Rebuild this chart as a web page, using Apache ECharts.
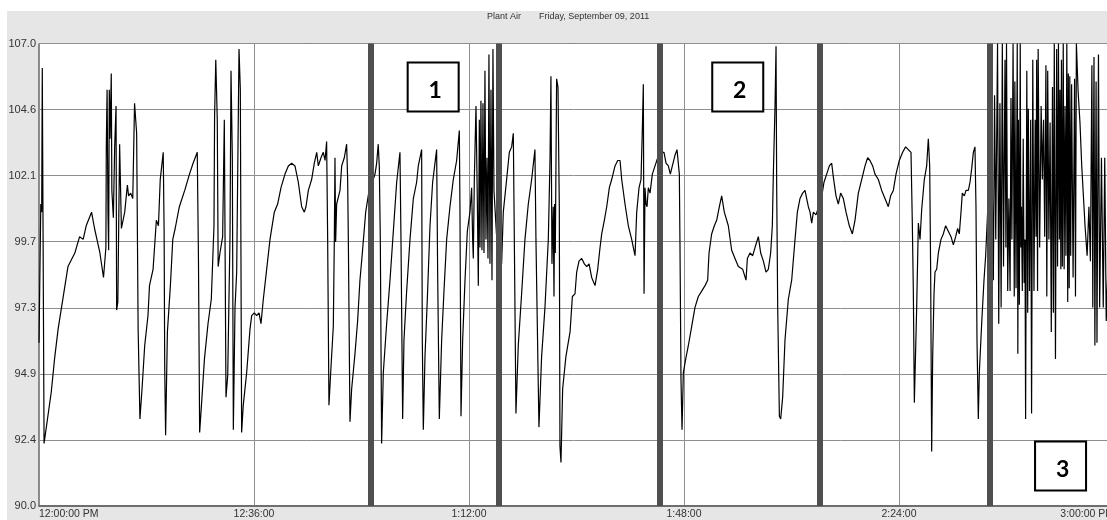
<!DOCTYPE html>
<html>
<head>
<meta charset="utf-8">
<title>Plant Air</title>
<script src="https://cdn.jsdelivr.net/npm/echarts@6/dist/echarts.min.js"></script>
<style>
  html, body { margin: 0; padding: 0; background: #fff; overflow: hidden; }
  #panel { position: absolute; left: 7px; top: 11px; right: 0; bottom: 0; background: #e6e6e6; }
  #chart { position: absolute; left: 0; top: 0; width: 1107px; height: 520px; }
</style>
</head>
<body>
<div id="panel"></div>
<div id="chart"></div>
<script>
// Plant air header pressure, noon to 3 PM. Each pair is [minutes after 12:00, pressure].
const sectionA = [[0,96.0],[0.3,101.1],[0.45,100.8],[0.55,106.1],[0.85,92.3],[2.06,94.2],[2.6,95.4],[3.2,96.5],[3.7,97.2],[4.85,98.8],[6.0,99.3],[6.8,99.9],[7.4,99.8],[7.9,100.3],[8.8,100.8],[9.3,100.2],[10.2,99.3],[10.8,98.4],[11.2,99.5],[11.27,103.2],[11.4,105.3],[11.55,100.8],[11.66,99.4],[11.77,105.3],[11.9,103.5],[12.1,105.9],[12.2,101.6],[12.45,100.6],[12.67,103.2],[12.9,104.7],[13.0,97.2],[13.2,97.5],[13.5,103.3],[13.8,100.2],[14.35,100.8],[14.8,101.8],[15.0,101.4],[15.35,101.5],[15.7,101.3],[16.0,104.8],[16.35,103.7],[16.6,96.5],[16.9,93.2],[17.25,94.3],[17.7,95.9],[18.25,97.0],[18.5,98.1],[19.1,98.7],[19.65,100.5],[20.0,100.3],[20.3,102.0],[20.8,103.0],[20.95,100.1],[21.05,95.1],[21.2,92.6],[21.5,96.4],[22.0,98.1],[22.4,99.8],[22.8,100.2],[23.5,101.0],[24.4,101.6],[25.2,102.2],[25.8,102.6],[26.5,103.0],[26.7,99.1],[26.9,92.7],[27.2,93.7],[27.7,95.4],[28.3,96.7],[28.85,97.6],[29.3,100.3],[29.4,104.3],[29.6,106.4]];

const sectionB = [[29.85,104.2],[30.0,98.8],[30.3,99.3],[30.75,99.9],[31.03,104.2],[31.31,94.0],[31.6,94.8],[31.98,99.9],[32.15,106.0],[32.37,102.8],[32.54,92.8],[32.82,97.3],[33.1,98.6],[33.49,106.8],[33.71,105.3],[33.93,92.7],[34.2,93.7],[34.77,94.9],[35.33,96.5],[35.61,97.0],[36.05,97.1],[36.45,97.0],[36.84,97.1],[37.17,96.7],[37.56,97.6],[38.12,98.7],[38.68,99.8],[39.4,100.8],[39.96,101.1],[40.52,101.7],[41.19,102.2],[41.75,102.5],[42.3,102.6],[42.86,102.5],[43.42,101.9],[43.98,101.0],[44.43,100.8],[44.7,101.0],[45.1,101.6],[45.65,102.0],[46.1,102.6],[46.5,103.0],[46.77,102.5],[47.22,102.8],[47.6,103.0],[47.9,102.7],[48.16,103.4],[48.33,99.9],[48.55,93.7],[48.89,95.1],[49.28,96.6],[49.45,99.8],[49.56,102.8],[49.67,99.7],[49.84,101.1],[50.4,101.6],[50.68,102.5],[51.12,102.8],[51.51,103.3],[51.68,102.0],[51.8,99.7],[52.07,93.1],[52.35,94.3],[52.91,95.6],[53.35,96.8],[53.74,98.3],[54.14,99.3],[54.7,100.8],[55.2,101.5],[55.8,101.9],[56.26,102.2],[56.54,102.6],[56.8,103.3],[56.98,102.5],[57.15,99.8],[57.37,92.3],[57.65,94.9],[58.21,96.7],[58.77,98.3]];

const sectionC = [[59.33,100.1],[59.89,101.9],[60.44,103.0],[60.61,99.8],[60.89,93.2],[61.11,96.1],[61.56,97.9],[62.12,99.8],[62.68,101.3],[63.23,101.9],[63.51,102.5],[64.07,103.1],[64.18,96.1],[64.35,92.8],[64.63,95.5],[65.02,97.6],[65.47,100.3],[65.91,101.9],[66.58,103.1],[66.75,98.6],[67.03,93.2],[67.42,96.1],[67.81,97.9],[68.26,99.8],[68.81,101.0],[69.37,102.0],[69.93,102.7],[70.38,103.8],[70.49,100.8],[70.66,93.3],[70.94,96.1],[71.33,98.3],[71.72,100.1],[72.16,100.8],[72.44,101.7],[72.61,99.8],[72.72,99.1],[72.89,102.0],[73.17,104.7],[73.39,101.3],[73.56,98.1],[73.73,104.2],[73.84,99.5],[74.0,104.9],[74.17,99.4],[74.34,104.8],[74.51,99.3],[74.67,106.0],[74.84,99.8],[75.01,102.8],[75.18,99.1],[75.34,106.6],[75.51,98.9],[75.68,105.3],[75.85,98.3],[76.01,106.8],[76.18,101.6],[76.6,100.0],[77.2,99.2],[77.46,98.9],[77.74,100.8],[78.3,102.0],[78.75,103.0],[79.14,103.2],[79.42,103.7],[79.59,99.8],[79.86,93.4],[80.25,95.9],[80.81,97.8],[81.37,99.8],[81.93,101.1],[82.49,102.0],[83.04,103.1],[83.21,99.8],[83.71,92.9],[84.16,95.5],[84.72,97.3],[85.28,99.8],[85.56,102.7],[85.72,105.8],[85.89,98.9],[86.11,101.0],[86.23,97.7],[86.34,101.1],[86.45,99.3],[86.67,105.7],[86.9,105.4],[87.12,101.0],[87.23,92.2],[87.4,91.6],[87.68,94.3],[88.23,95.5]];

const sectionD = [[88.92,96.4],[89.31,97.7],[89.75,97.8],[90.03,98.6],[90.42,99.0],[90.87,99.1],[91.32,98.9],[91.71,98.8],[92.1,98.9],[92.54,98.4],[93.1,98.1],[93.55,98.7],[93.94,99.5],[94.22,100.0],[94.66,100.5],[95.06,101.0],[95.5,101.7],[95.89,102.0],[96.45,102.5],[96.9,102.7],[97.29,102.7],[97.57,102.0],[98.12,101.1],[98.68,100.3],[99.24,99.8],[99.52,99.5],[99.8,99.2],[100.08,100.8],[100.47,101.7],[100.8,102.0],[101.03,103.9],[101.19,105.5],[101.31,97.8],[101.47,101.7],[101.64,101.1],[101.81,101.0],[102.03,101.7],[102.31,101.5],[102.7,102.2],[103.15,102.5],[103.6,102.8],[104.3,103.0],[104.65,103.0],[104.99,102.6],[105.38,102.5],[105.71,102.2],[106.05,102.5],[106.5,102.9],[106.83,103.1],[107.11,103.1],[107.22,102.2],[107.33,99.5],[107.5,94.6],[107.67,92.8],[107.89,94.9],[108.28,95.4],[108.73,95.9],[109.29,96.6],[109.84,97.3],[110.4,97.7],[110.96,97.9],[111.52,98.1],[111.96,98.3],[112.19,99.3],[112.63,100.0],[113.08,100.3],[113.47,100.5],[113.92,101.0],[114.31,101.4],[114.75,100.8],[115.42,100.3],[115.98,99.4],[116.54,99.1],[117.1,98.8]];

const sectionE = [[117.83,98.7],[118.38,98.3],[118.61,99.1],[119.05,99.3],[119.5,99.2],[119.89,99.5],[120.45,99.9],[120.84,99.3],[121.29,99.0],[121.73,98.6],[122.12,98.7],[122.51,99.3],[122.79,100.3],[122.96,102.2],[123.24,104.7],[123.41,106.9],[123.52,101.7],[123.69,97.3],[123.97,93.3],[124.19,93.2],[124.52,94.0],[124.91,96.1],[125.47,97.6],[126.03,98.3],[126.59,99.8],[126.98,100.8],[127.42,101.3],[127.87,101.5],[128.26,101.6],[128.54,101.3],[128.82,101.0],[129.1,100.8],[129.38,100.4],[129.66,100.8],[130.1,100.7],[131.0,101.3],[131.44,101.9],[131.89,102.2],[132.34,102.5],[132.73,102.6],[133.0,102.1],[133.45,101.4],[133.84,101.1],[134.23,101.5],[134.68,101.3],[135.13,100.8],[135.68,100.3],[136.19,100.0],[136.63,100.5],[137.19,101.5],[137.75,102.0],[138.31,102.5],[138.75,102.8],[139.14,102.7],[139.59,102.5],[139.98,102.2],[140.54,102.0],[141.1,101.6],[141.65,101.3],[142.21,101.0],[142.6,101.4],[143.05,101.6],[143.5,102.2],[144.05,102.7],[144.61,103.0],[145.11,103.2],[145.56,103.1],[146.01,103.0],[146.23,100.4],[146.4,97.9],[146.57,93.8]];

const sectionF = [[146.96,97.3],[147.24,100.4],[147.52,99.8],[147.8,100.9],[148.24,102.0],[148.63,102.5],[148.91,103.5],[149.14,102.5],[149.3,98.6],[149.47,92.0],[149.64,95.5],[149.86,97.8],[150.03,98.6],[150.31,98.7],[150.59,99.3],[151.03,99.8],[151.42,100.0],[151.81,100.3],[152.26,100.1],[152.71,99.9],[153.1,99.6],[153.49,99.9],[153.82,100.2],[154.1,100.0],[154.38,100.8],[154.6,101.5],[154.94,101.4],[155.22,101.6],[155.61,101.6],[155.89,101.9],[156.17,102.4],[156.45,103.0],[156.72,103.2],[156.89,101.0],[157.06,96.1],[157.28,93.2],[157.45,94.9],[157.84,96.7],[158.23,98.3],[158.51,99.2]];

const sectionG = [[159.5,104.0],[159.8,98.3],[160.0,105.1],[160.2,99.8],[160.5,107.0],[160.7,96.7],[160.9,104.8],[161.1,97.3],[161.3,107.0],[161.5,98.8],[161.75,106.4],[161.9,99.5],[162.0,107.0],[162.2,97.9],[162.4,101.3],[162.6,97.9],[162.75,105.0],[162.9,99.8],[163.1,107.0],[163.3,97.7],[163.4,105.6],[163.6,98.0],[163.8,107.0],[163.9,95.6],[164.0,104.2],[164.15,97.4],[164.3,107.0],[164.4,99.5],[164.5,101.0],[164.65,97.9],[164.8,103.5],[164.95,98.2],[165.1,99.8],[165.2,93.2],[165.4,106.0],[165.55,97.1],[165.65,104.6],[165.85,97.9],[166.05,104.2],[166.2,93.4],[166.4,106.4],[166.6,97.9],[166.8,104.2],[166.95,99.9],[167.05,106.4],[167.2,97.9],[167.3,106.8],[167.55,99.5],[167.8,104.7],[168.0,102.0],[168.2,104.2],[168.4,99.9],[168.6,106.2],[168.75,97.7],[168.9,106.0],[169.1,99.8],[169.3,104.1],[169.5,96.4],[169.7,105.4],[169.85,97.1],[170.0,107.0],[170.2,95.4],[170.4,106.8],[170.55,98.8],[170.7,107.0],[170.85,99.8],[170.96,105.3],[171.1,98.7],[171.2,106.4],[171.35,98.8],[171.5,107.0],[171.65,98.7],[171.8,104.7],[171.95,99.2],[172.1,107.0],[172.25,97.5],[172.35,105.9],[172.5,98.0],[172.6,105.8],[172.75,99.2],[172.9,105.5],[173.15,98.4],[173.4,105.7],[173.55,97.7],[173.7,107.0],[174.0,105.2],[174.3,104.1],[174.6,102.5],[174.9,101.3],[175.15,100.3],[175.5,99.2],[175.8,101.0],[176.05,99.0],[176.3,106.2],[176.45,97.3],[176.65,106.5],[176.8,95.9],[177.0,105.6],[177.15,96.0],[177.4,106.6],[177.6,97.3],[177.9,102.8],[178.2,97.3],[178.45,102.8],[178.7,96.8],[179.3,101.0],[180.0,99.0]];

// Axis tick text
const xTickLabels = ['12:00:00 PM', '12:36:00', '1:12:00', '1:48:00', '2:24:00', '3:00:00 PM'];
const yTickLabels = ['90.0', '92.4', '94.9', '97.3', '99.7', '102.1', '104.6', '107.0'];

// Event dividers (minutes after noon) and the numbered call-outs
const dividerMinutes = [55.5, 76.9, 104.0, 130.8, 159.2];
const boxLabels = ['1', '2', '3'];
const boxMinutes = [66.0, 117.0, 171.05];
const boxPressure = [105.4, 105.4, 91.47];

const trace = [].concat(sectionA, sectionB, sectionC, sectionD, sectionE, sectionF, sectionG);

const FONT = '"Liberation Sans", Arial, sans-serif';
const chart = echarts.init(document.getElementById('chart'), null, { renderer: 'canvas' });

chart.setOption({
  animation: false,
  backgroundColor: 'transparent',
  title: [
    { text: 'Plant Air', left: 487, top: 12, padding: 0,
      textStyle: { fontSize: 9, fontWeight: 'normal', color: '#333', fontFamily: FONT } },
    { text: 'Friday, September 09, 2011', left: 539, top: 12, padding: 0,
      textStyle: { fontSize: 9, fontWeight: 'normal', color: '#333', fontFamily: FONT } }
  ],
  grid: {
    left: 39, top: 43.5, right: -7, bottom: 14,
    outerBoundsMode: 'none',
    containLabel: false,
    show: true, backgroundColor: '#ffffff', borderColor: '#2b2b2b', borderWidth: 1
  },
  xAxis: {
    type: 'value', min: 0, max: 180, interval: 36,
    axisLine: { show: true, lineStyle: { color: '#6e6e6e', width: 2 } },
    axisTick: { show: false },
    splitLine: { show: true, lineStyle: { color: '#8e8e8e', width: 1 } },
    axisLabel: {
      formatter: v => xTickLabels[Math.round(v / 36)] || '',
      color: '#333', fontSize: 10.5, fontFamily: FONT, margin: 3,
      showMinLabel: true, showMaxLabel: true,
      alignMinLabel: 'left', alignMaxLabel: 'right'
    }
  },
  yAxis: [
    { type: 'value', min: 90, max: 107, show: false, splitLine: { show: false } },
    {
      type: 'value', min: 0, max: 7, interval: 1, position: 'left',
      axisLine: { show: false }, axisTick: { show: false },
      splitLine: { show: true, lineStyle: { color: '#8e8e8e', width: 1 } },
      axisLabel: {
        formatter: v => yTickLabels[Math.round(v)],
        color: '#333', fontSize: 11, fontFamily: FONT, margin: 3
      }
    }
  ],
  series: [{
    type: 'line',
    yAxisIndex: 0,
    data: trace,
    showSymbol: false,
    symbol: 'none',
    silent: true,
    clip: true,
    lineStyle: { color: '#000000', width: 1.2 },
    markLine: {
      silent: true,
      symbol: ['none', 'none'],
      label: { show: false },
      lineStyle: { color: '#4f4f4f', width: 6, type: 'solid' },
      data: dividerMinutes.map(m => ({ xAxis: m }))
    },
    markPoint: {
      silent: true,
      symbol: 'rect',
      symbolSize: [51, 49],
      itemStyle: { color: '#ffffff', borderColor: '#000000', borderWidth: 2 },
      label: {
        show: true, position: 'inside', formatter: '{b}',
        color: '#000', fontSize: 23, fontWeight: 'bold',
        fontFamily: 'Lato, "DejaVu Sans", sans-serif', offset: [2, 4]
      },
      data: boxLabels.map((b, i) => ({ name: b, coord: [boxMinutes[i], boxPressure[i]] }))
    }
  }]
});
</script>
</body>
</html>
